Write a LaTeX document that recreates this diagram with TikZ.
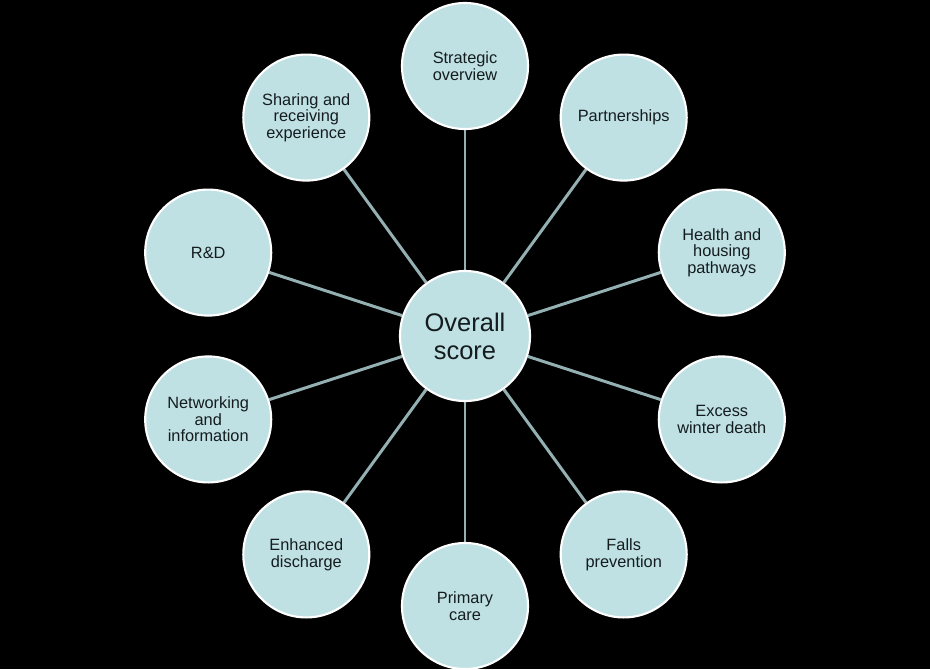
\documentclass[tikz,border=0pt]{standalone}
\usepackage{fontspec}
\setmainfont{Liberation Sans}
\usetikzlibrary{positioning, backgrounds}
\definecolor{bubblefill}{RGB}{192, 225, 228}
\definecolor{spokegrey}{RGB}{148, 176, 178}
\definecolor{labelink}{RGB}{20, 28, 30}

\begin{document}
\begin{tikzpicture}[
  hub/.style={circle, draw=white, line width=1.2pt, fill=bubblefill, minimum size=2.6cm, align=center, text=labelink, font=\fontsize{14.5}{16}\selectfont, inner sep=0pt},
  bubble/.style={circle, draw=white, line width=1.2pt, fill=bubblefill, minimum size=2.52cm, align=center, text=labelink, font=\fontsize{9.3}{9.5}\selectfont, inner sep=0pt},
  spoke/.style={line width=1.7pt, draw=spokegrey}
]
  \useasboundingbox (-9.3,-6.66) rectangle (9.3,6.72);

  \node[hub] (overall) at (0, 0) {Overall\\score};

  \node[bubble] (strategic) at (90:5.4) {Strategic\\overview};
  \node[bubble] (partner) at (54:5.4) {Partnerships};
  \node[bubble] (housing) at (18:5.4) {Health and\\housing\\pathways};
  \node[bubble] (winter) at (-18:5.4) {Excess\\winter death};
  \node[bubble] (falls) at (-54:5.4) {Falls\\prevention};
  \node[bubble] (primary) at (-90:5.4) {Primary\\care};
  \node[bubble] (discharge) at (-126:5.4) {Enhanced\\discharge};
  \node[bubble] (network) at (-162:5.4) {Networking\\and\\information};
  \node[bubble] (rnd) at (162:5.4) {R\&D};
  \node[bubble] (sharing) at (126:5.4) {Sharing and\\receiving\\experience};

  \begin{scope}[on background layer]
    \fill[black] (-9.3,-6.66) rectangle (9.3,6.72);
    \draw[spoke] (overall) -- (strategic);
    \draw[spoke] (overall) -- (partner);
    \draw[spoke] (overall) -- (housing);
    \draw[spoke] (overall) -- (winter);
    \draw[spoke] (overall) -- (falls);
    \draw[spoke] (overall) -- (primary);
    \draw[spoke] (overall) -- (discharge);
    \draw[spoke] (overall) -- (network);
    \draw[spoke] (overall) -- (rnd);
    \draw[spoke] (overall) -- (sharing);
  \end{scope}

\end{tikzpicture}
\end{document}
